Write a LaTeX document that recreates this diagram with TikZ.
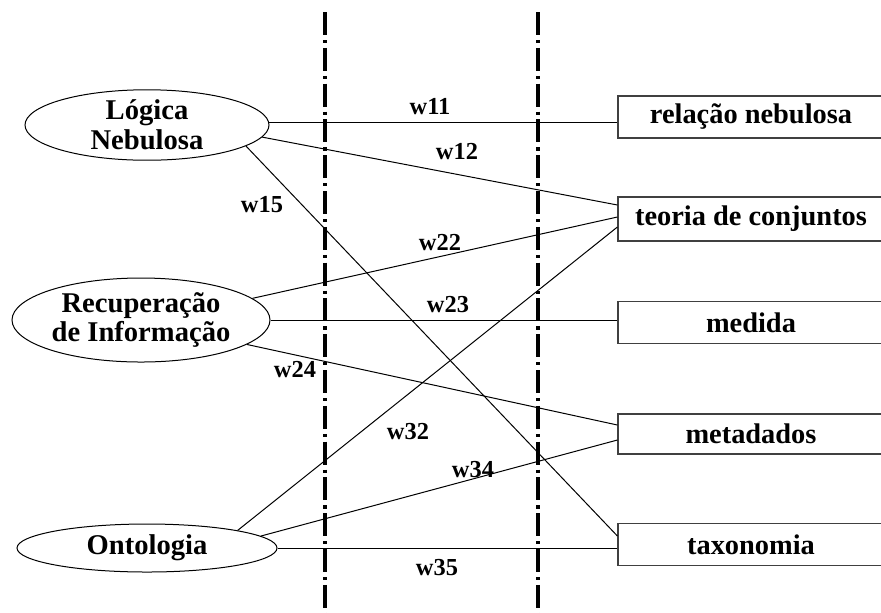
\documentclass[tikz,border=0pt]{standalone}
\usepackage{fontspec}
\setmainfont{Liberation Serif}
\usetikzlibrary{shapes.geometric}
\begin{document}
\begin{tikzpicture}[x=0.5pt,y=-0.5pt,
  concept/.style={draw,ellipse,inner sep=0pt,line width=0.5pt,align=center,
    font=\fontsize{14.3}{14.8}\selectfont\bfseries},
  term/.style={draw=black!75,rectangle,inner sep=0pt,line width=0.6pt,
    minimum width=133pt,minimum height=21pt,
    font=\fontsize{14.2}{15}\selectfont\bfseries},
  weight/.style={inner sep=0pt,font=\fontsize{12.2}{12}\selectfont\bfseries},
  link/.style={line width=0.5pt},
  divider/.style={line width=1.6pt,dash pattern=on 11.5pt off 2.5pt on 1.6pt off 2.3pt}]
\useasboundingbox (0,0) rectangle (881,612);

% vertical separators
\coordinate (d1t) at (325,12);  \coordinate (d1b) at (325,614);
\coordinate (d2t) at (538,12);  \coordinate (d2b) at (538,614);
\draw[divider] (d1t) -- (d1b);
\draw[divider] (d2t) -- (d2b);

% concepts
\node[concept,minimum width=122pt,minimum height=35pt] (ln)  at (147,125) {Lógica\\Nebulosa};
\node[concept,minimum width=129pt,minimum height=42pt] (rec) at (141,320) {Recuperação\\de Informação};
\node[concept,minimum width=130pt,minimum height=24pt] (ont) at (147,548) {Ontologia};

% terms
\node[term] (rel) at (751,117) {relação nebulosa};
\node[term,minimum height=22pt] (teo) at (751,219) {teoria de conjuntos};
\node[term] (med) at (751,322.5) {medida};
\node[term,minimum height=20pt] (meta) at (751,434) {metadados};
\node[term] (tax) at (751,544.5) {taxonomia};

% links
\draw[link] (ln.1.5) -- (ln.1.5 -| rel.west);
\draw[link] (ln.-6) -- ([yshift=7pt]teo.west);
\draw[link] (ln.-12) -- ([yshift=4.25pt]tax.west);
\draw[link] (rec.11) -- ([yshift=1pt]teo.west);
\draw[link] (rec.east) -- (rec.east -| med.west);
\draw[link] (rec.-13) -- ([yshift=4.5pt]meta.west);
\draw[link] (ont.11) -- ([yshift=-4pt]teo.west);
\draw[link] (ont.6) -- ([yshift=-3pt]meta.west);
\draw[link] (ont.east) -- (ont.east -| tax.west);

% weights
\node[weight] (w11) at (430,107) {w11};
\node[weight] (w12) at (457,152) {w12};
\node[weight] (w15) at (262,205) {w15};
\node[weight] (w22) at (440,243) {w22};
\node[weight] (w23) at (448,305) {w23};
\node[weight] (w24) at (295,370) {w24};
\node[weight] (w32) at (408,432) {w32};
\node[weight] (w34) at (473,470) {w34};
\node[weight] (w35) at (437,568) {w35};
\end{tikzpicture}
\end{document}
